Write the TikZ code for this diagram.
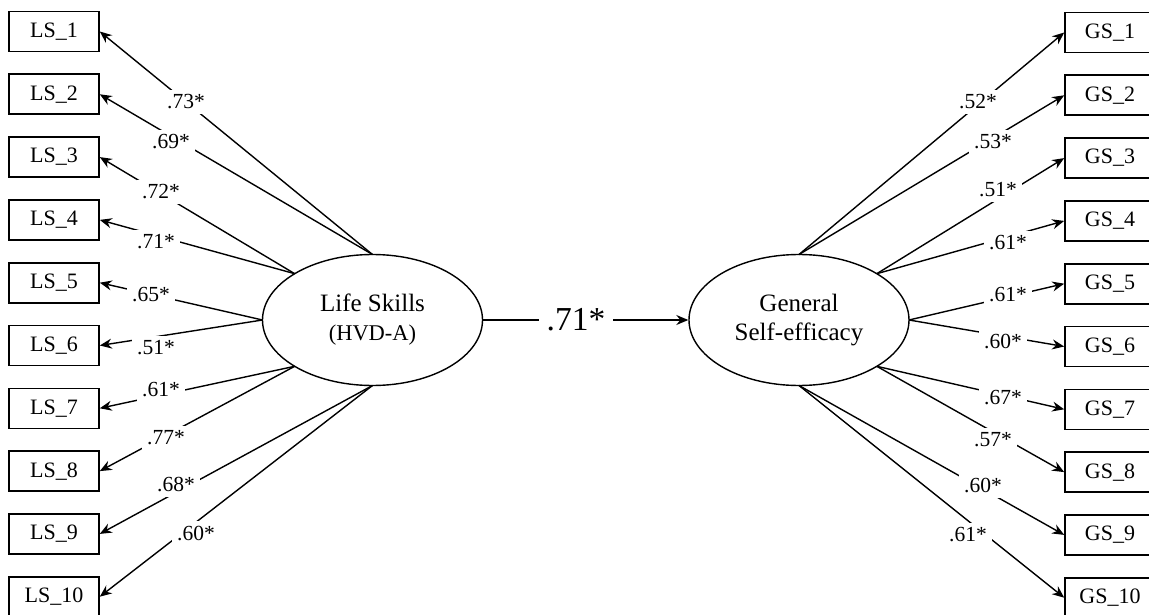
\documentclass[tikz,border=0pt]{standalone}
\usepackage{fontspec}
\setmainfont{Liberation Serif}
\usetikzlibrary{shapes.geometric,arrows.meta}
\begin{document}
\begin{tikzpicture}[x=1pt,y=-1pt,
  obs/.style={draw, line width=1.6pt, minimum width=90pt, minimum height=40pt, inner sep=0pt, font=\fontsize{22}{24}\selectfont},
  lat/.style={draw, ellipse, line width=1.4pt, minimum width=220pt, minimum height=131pt, inner sep=0pt, align=center, font=\fontsize{25}{29}\selectfont},
  lab/.style={fill=white, inner sep=5pt, font=\fontsize{21.5}{24}\selectfont},
  biglab/.style={fill=white, inner sep=8pt, font=\fontsize{33.5}{36}\selectfont},
  load/.style={line width=1.4pt, -{Stealth[length=12pt,width=10pt,inset=4pt]}}
]
\useasboundingbox (0,0) rectangle (1149,615);
% latent variables
\node[lat] (LSK) at (372.5,320) {Life Skills\\{\fontsize{22.5}{29}\selectfont (HVD-A)}};
\node[lat] (GSE) at (799,320) {General\\Self-efficacy};
% emission points on the ellipses
\coordinate (Lt) at (372.5,254.5);
\coordinate (Lnw) at (294.7,273.7);
\coordinate (Lw) at (262.5,320);
\coordinate (Lsw) at (294.7,366.3);
\coordinate (Lb) at (372.5,385.5);
\coordinate (Rt) at (799,254.5);
\coordinate (Rne) at (876.8,273.7);
\coordinate (Re) at (909,320);
\coordinate (Rse) at (876.8,366.3);
\coordinate (Rb) at (799,385.5);
% indicators
\foreach \i/\y in {1/31.5,2/94.3,3/157.1,4/219.9,5/282.7,6/345.5,7/408.3,8/471.1,9/533.9,10/596.7}
  \node[obs] (LS\i) at (54,\y) {LS\_\i};
\foreach \i/\y in {1/32.5,2/95.3,3/158.1,4/220.9,5/283.7,6/346.5,7/409.3,8/472.1,9/534.9,10/597.7}
  \node[obs] (GS\i) at (1110,\y) {GS\_\i};
% loadings
\foreach \i/\s in {1/Lt,2/Lt,3/Lnw,4/Lnw,5/Lw,6/Lw,7/Lsw,8/Lsw,9/Lb,10/Lb}
  \draw[load] (\s) -- (LS\i.east);
\foreach \i/\s in {1/Rt,2/Rt,3/Rne,4/Rne,5/Re,6/Re,7/Rse,8/Rse,9/Rb,10/Rb}
  \draw[load] (\s) -- (GS\i.west);
\draw[load] (LSK.east) -- (GSE.west);
% loading labels
\foreach \i/\x/\y/\t in {1/186/102/.73*,2/171/142/.69*,3/161/192/.72*,4/156/242/.71*,5/151/295/.65*,6/156/348/.51*,7/161/390/.61*,8/166/438/.77*,9/176/485/.68*,10/196/533/.60*}
  \node[lab] (lL\i) at (\x,\y) {\t};
\foreach \i/\x/\y/\t in {1/978/102/.52*,2/993/142/.53*,3/998/190/.51*,4/1008/243/.61*,5/1008/295/.61*,6/1003/342/.60*,7/1003/398/.67*,8/993/440/.57*,9/983/486/.60*,10/968/535/.61*}
  \node[lab] (lR\i) at (\x,\y) {\t};
\node[biglab] (beta) at (576,320) {.71*};
\end{tikzpicture}
\end{document}
